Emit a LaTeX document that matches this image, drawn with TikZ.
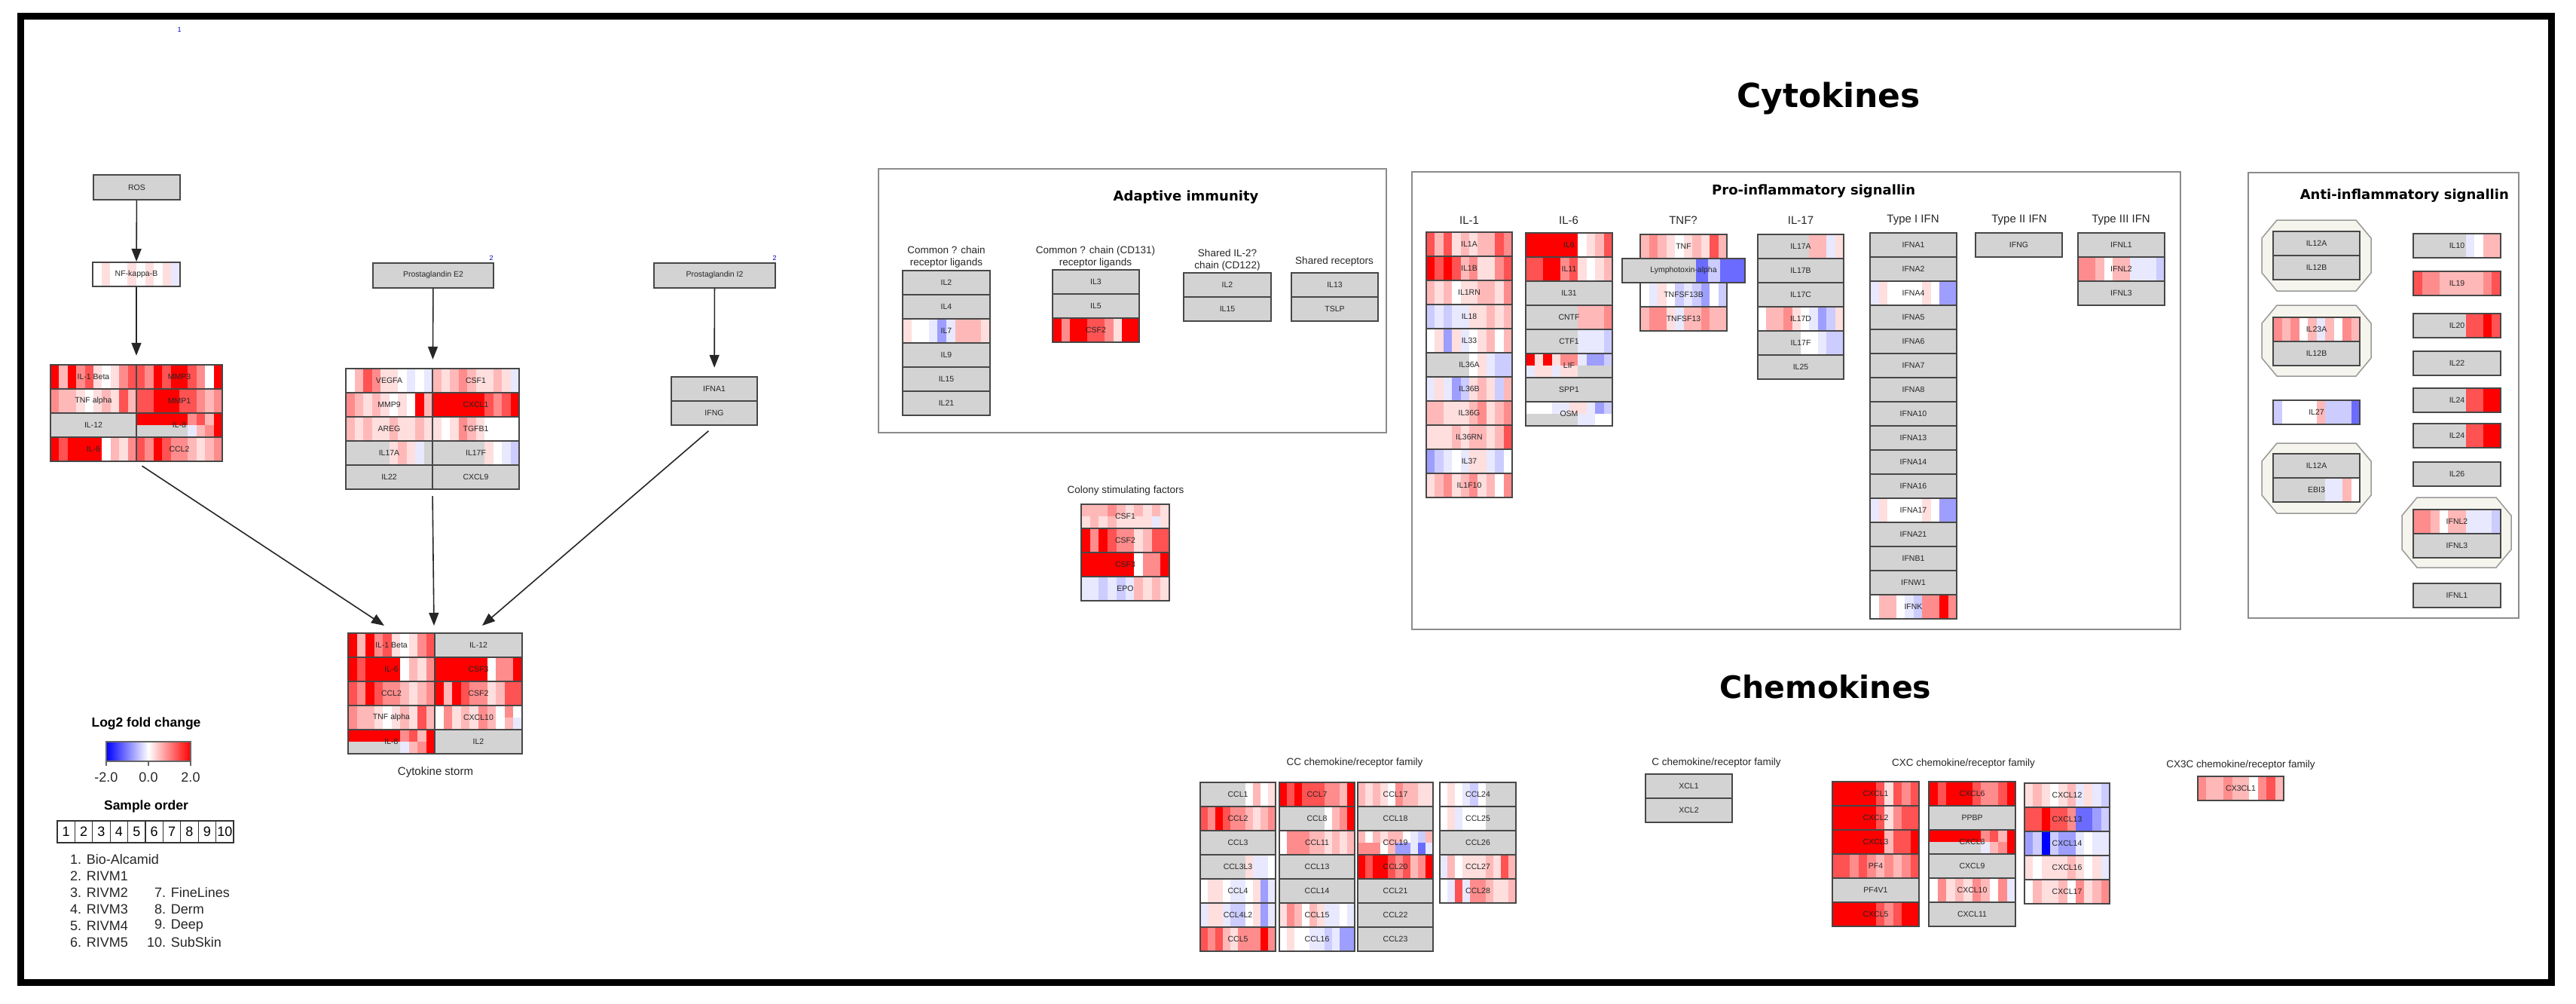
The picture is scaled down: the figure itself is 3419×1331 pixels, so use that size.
\documentclass[tikz,border=0pt]{standalone}
\usepackage{fontspec}
\setmainfont{Liberation Sans}
\newfontfamily\hdfont{DejaVu Sans}
\usetikzlibrary{arrows.meta,fit}
\definecolor{hmg}{HTML}{D3D3D3}
\colorlet{hm0}{white}
\colorlet{hm1}{red!13}
\colorlet{hm2}{red!28}
\colorlet{hm3}{red!45}
\colorlet{hm4}{red!68}
\colorlet{hm5}{red}
\colorlet{hma}{blue!9}
\colorlet{hmb}{blue!20}
\colorlet{hmc}{blue!38}
\colorlet{hmd}{blue!58}
\colorlet{hme}{blue}
\definecolor{cplxfill}{HTML}{F5F5ED}
\newcommand\hgn[6]{%
  \foreach \cc [count=\ii from 0] in {#6}{\fill[fill=hm\cc] ({#2+\ii*#4/10},{#3}) rectangle ({#2+(\ii+1)*#4/10+0.4},{#3+32});}
  \node[gframe, minimum width=#4pt] (#1) at ({#2+#4/2},{#3+16}) {#5};}
\newcommand\hgnn[7]{%
  \foreach \cc [count=\ii from 0] in {#6}{\fill[fill=hm\cc] ({#2+\ii*#4/10},{#3}) rectangle ({#2+(\ii+1)*#4/10+0.4},{#3+16});}
  \foreach \cc [count=\ii from 0] in {#7}{\fill[fill=hm\cc] ({#2+\ii*#4/10},{#3+16}) rectangle ({#2+(\ii+1)*#4/10+0.4},{#3+32});}
  \node[gframe, minimum width=#4pt] (#1) at ({#2+#4/2},{#3+16}) {#5};}
\newcommand\hgg[5]{\node[gframe, fill=hmg, minimum width=#4pt] (#1) at ({#2+#4/2},{#3+16}) {#5};}
\newcommand\hocto[4]{\filldraw[cplx] ({#1+20},#2) -- ({#3-20},#2) -- (#3,{#2+24}) -- (#3,{#4-24}) -- ({#3-20},#4) -- ({#1+20},#4) -- (#1,{#4-24}) -- (#1,{#2+24}) -- cycle;}
\begin{document}
\begin{tikzpicture}[x=1pt,y=-1pt,
  gframe/.style={draw=black!72, line width=2pt, inner sep=0pt, minimum height=32pt, font=\fontsize{10.5}{12}\selectfont, text=black!85},
  pbox/.style={gframe, fill=hmg, minimum height=33pt},
  arr/.style={-{Triangle[length=17pt,width=13pt]}, line width=1.6pt, black!85},
  grp/.style={draw=black!45, line width=2.2pt},
  ttl/.style={font=\hdfont\bfseries\fontsize{18}{20}\selectfont, inner sep=0pt},
  big/.style={font=\hdfont\bfseries\fontsize{44}{48}\selectfont, inner sep=0pt},
  sub/.style={font=\fontsize{15}{17}\selectfont, text=black!85, inner sep=0pt},
  subs/.style={font=\fontsize{13.5}{16}\selectfont, text=black!85, inner sep=0pt, align=center},
  bnum/.style={font=\fontsize{9}{10}\selectfont, text=blue!70!black, inner sep=0pt},
  cplx/.style={fill=cplxfill, draw=black!40, line width=1.5pt},
  leg/.style={font=\fontsize{18}{20}\selectfont, text=black!85, inner sep=0pt},
  legb/.style={font=\bfseries\fontsize{17.5}{20}\selectfont, inner sep=0pt},
  sbox/.style={draw=black!80, line width=1.2pt, minimum width=23.4pt, minimum height=29pt, inner sep=0pt, font=\fontsize{18}{20}\selectfont}]
\useasboundingbox (0,0) rectangle (3419,1331);
\fill[white] (0,0) rectangle (3419,1331);
\draw[line width=9pt] (27,21) rectangle (3386,1303);

% ---------- left pathway ----------
\node[bnum] (b1) at (238,39) {1};
\node[pbox, minimum width=115pt] (ros) at (181.5,248.5) {ROS};
\hgn{nfkb}{123}{348}{116}{NF-kappa-B}{0,1,0,0,1,0,1,0,1,a}
\node[pbox, minimum width=160pt] (pge2) at (575,365) {Prostaglandin E2};
\node[bnum] (b2) at (652,342) {2};
\node[pbox, minimum width=161pt] (pgi2) at (948.5,365) {Prostaglandin I2};
\node[bnum] (b3) at (1028,342) {2};

\hgn{ha1}{67}{484}{114}{IL-1 Beta}{5,2,5,3,4,1,0,1,3,4}
\hgn{ha2}{181}{484}{114}{MMP3}{4,3,5,4,5,5,4,3,0,5}
\hgn{ha3}{67}{516}{114}{TNF alpha}{3,2,2,1,0,1,2,1,4,2}
\hgn{ha4}{181}{516}{114}{MMP1}{4,4,5,5,5,4,4,3,2,3}
\hgg{ha5}{67}{548}{114}{IL-12}
\hgnn{ha6}{181}{548}{114}{IL-8}{5,5,5,5,5,5,3,4,2,5}{g,g,g,g,g,g,a,2,3,5}
\hgn{ha7}{67}{580}{114}{IL-6}{5,4,5,5,5,5,0,2,1,3}
\hgn{ha8}{181}{580}{114}{CCL2}{4,3,5,4,3,3,2,1,2,3}
\node[fit=(ha1)(ha8), inner sep=0pt] (hmA) {};

\hgn{hb1}{459}{489}{115}{VEGFA}{0,2,4,3,1,1,0,a,0,a}
\hgn{hb2}{574}{489}{115}{CSF1}{2,1,2,3,2,1,1,2,1,a}
\hgn{hb3}{459}{521}{115}{MMP9}{3,2,1,2,1,0,1,0,5,2}
\hgn{hb4}{574}{521}{115}{CXCL1}{5,5,5,5,5,5,4,3,4,5}
\hgn{hb5}{459}{553}{115}{AREG}{2,1,2,1,1,2,1,1,2,1}
\hgn{hb6}{574}{553}{115}{TGFB1}{1,0,1,3,2,1,0,0,0,0}
\hgn{hb7}{459}{585}{115}{IL17A}{g,g,g,g,g,1,2,1,a,g}
\hgn{hb8}{574}{585}{115}{IL17F}{g,g,g,g,g,g,1,0,a,b}
\hgg{hb9}{459}{617}{115}{IL22}
\hgg{hb10}{574}{617}{115}{CXCL9}
\node[fit=(hb1)(hb10), inner sep=0pt] (hmB) {};

\hgg{hc1}{891}{500}{114}{IFNA1}
\hgg{hc2}{891}{532}{114}{IFNG}
\node[fit=(hc1)(hc2), inner sep=0pt] (hmC) {};

\hgn{st1}{462}{840}{115}{IL-1 Beta}{5,2,5,3,4,1,0,1,3,4}
\hgn{st2}{462}{872}{115}{IL-6}{5,4,5,5,5,5,0,2,1,3}
\hgn{st3}{462}{904}{115}{CCL2}{4,3,5,4,3,3,2,1,2,3}
\hgn{st4}{462}{936}{115}{TNF alpha}{3,2,2,1,0,1,2,1,4,2}
\hgnn{st5}{462}{968}{115}{IL-8}{5,5,5,5,5,5,3,4,2,5}{g,g,g,g,g,g,a,2,3,5}
\hgg{st6}{577}{840}{116}{IL-12}
\hgn{st7}{577}{872}{116}{CSF3}{5,5,5,5,5,5,0,3,3,5}
\hgn{st8}{577}{904}{116}{CSF2}{5,2,5,4,3,3,1,2,4,4}
\hgnn{st9}{577}{936}{116}{CXCL10}{0,3,1,2,1,3,2,0,3,0}{0,3,1,2,1,3,2,0,2,a}
\hgg{st10}{577}{968}{116}{IL2}
\node[sub] (stlbl) at (578,1025) {Cytokine storm};

\coordinate (tA) at (510,830);
\coordinate (tB) at (576,830);
\coordinate (tC) at (640,830);
\draw[arr] (ros) -- (nfkb);
\draw[arr, shorten >=11pt] (nfkb) -- (hmA);
\draw[arr, shorten >=11pt] (pge2) -- (hmB);
\draw[arr, shorten >=11pt] (pgi2) -- (hmC);
\draw[arr, shorten <=9pt] (hmA.south) -- (tA);
\draw[arr, shorten <=8pt] (hmB.south) -- (tB);
\draw[arr, shorten <=10pt] (hmC.south) -- (tC);

% ---------- legend ----------
\node[legb] (lfc) at (194,960) {Log2 fold change};
\shade[left color=blue, right color=red, middle color=white] (141,984) rectangle (253,1010);
\draw[black!60, line width=1.2pt] (141,984) rectangle (253,1010);
\draw[black!60, line width=1.2pt] (141,1010) -- (141,1016) (197,1010) -- (197,1016) (253,1010) -- (253,1016);
\node[leg] (lm2) at (141,1031) {-2.0};
\node[leg] (l00) at (197,1031) {0.0};
\node[leg] (lp2) at (253,1031) {2.0};
\node[legb] (sord) at (194,1070) {Sample order};
\foreach \k in {1,...,10} \node[sbox] (s\k) at ({76+23.4*(\k-0.5)},1103.5) {\k};
\node[leg, anchor=west] (sn1) at (93,1140) {1. Bio-Alcamid};
\node[leg, anchor=west] (sn2) at (93,1162) {2. RIVM1};
\node[leg, anchor=west] (sn3) at (93,1184) {3. RIVM2};
\node[leg, anchor=west] (sn4) at (93,1206) {4. RIVM3};
\node[leg, anchor=west] (sn5) at (93,1228) {5. RIVM4};
\node[leg, anchor=west] (sn6) at (93,1250) {6. RIVM5};
\node[leg, anchor=west] (sn7) at (205,1184) {7. FineLines};
\node[leg, anchor=west] (sn8) at (205,1206) {8. Derm};
\node[leg, anchor=west] (sn9) at (205,1228) {9. Deep};
\node[leg, anchor=west] (sn10) at (195,1250) {10. SubSkin};

% ---------- Cytokines ----------
\node[big] (cyt) at (2427,131) {Cytokines};

% Adaptive immunity
\draw[grp] (1166,224) rectangle (1840,574);
\node[ttl] (adt) at (1574,262) {Adaptive immunity};
\node[subs] (ad1) at (1256,341) {Common ? chain\\receptor ligands};
\node[subs] (ad2) at (1454,341) {Common ? chain (CD131)\\receptor ligands};
\node[subs] (ad3) at (1629,345) {Shared IL-2?\\chain (CD122)};
\node[subs] (ad4) at (1771,347) {Shared receptors};
\hgg{a1}{1198}{359}{116}{IL2}
\hgg{a2}{1198}{391}{116}{IL4}
\hgn{a3}{1198}{423}{116}{IL7}{1,0,0,a,c,a,2,2,2,1}
\hgg{a4}{1198}{455}{116}{IL9}
\hgg{a5}{1198}{487}{116}{IL15}
\hgg{a6}{1198}{519}{116}{IL21}
\hgg{a7}{1397}{358}{115}{IL3}
\hgg{a8}{1397}{390}{115}{IL5}
\hgn{a9}{1397}{422}{115}{CSF2}{5,3,5,5,4,4,3,1,5,5}
\hgg{a10}{1571}{362}{116}{IL2}
\hgg{a11}{1571}{394}{116}{IL15}
\hgg{a12}{1714}{362}{115}{IL13}
\hgg{a13}{1714}{394}{115}{TSLP}

% Colony stimulating factors
\node[subs] (csft) at (1494,651) {Colony stimulating factors};
\hgnn{c1}{1435}{669}{117}{CSF1}{2,2,2,3,2,1,2,1,2,1}{1,2,1,2,1,1,1,1,a,1}
\hgn{c2}{1435}{701}{117}{CSF2}{5,3,5,4,3,3,1,2,4,4}
\hgn{c3}{1435}{733}{117}{CSF3}{5,5,5,5,5,5,0,3,3,5}
\hgn{c4}{1435}{765}{117}{EPO}{a,a,b,a,b,a,2,1,2,1}

% Pro-inflammatory signalling
\draw[grp] (1874,228) rectangle (2894,835);
\node[ttl, anchor=west] (prot) at (2272,254) {Pro-inflammatory signallin};
\node[sub] (g1t) at (1950,292) {IL-1};
\node[sub] (g2t) at (2082,292) {IL-6};
\node[sub] (g3t) at (2234,292) {TNF?};
\node[sub] (g4t) at (2390,292) {IL-17};
\node[sub] (g5t) at (2539,292) {Type I IFN};
\node[sub] (g6t) at (2680,292) {Type II IFN};
\node[sub] (g7t) at (2815,292) {Type III IFN};
\hgn{p1}{1893}{308}{114}{IL1A}{4,2,4,1,2,1,2,2,4,3}
\hgn{p2}{1893}{340}{114}{IL1B}{5,4,5,4,2,3,1,1,3,4}
\hgn{p3}{1893}{372}{114}{IL1RN}{2,1,2,0,1,1,2,2,1,3}
\hgn{p4}{1893}{404}{114}{IL18}{b,a,b,a,a,1,1,2,1,2}
\hgn{p5}{1893}{436}{114}{IL33}{0,1,c,1,a,0,1,2,0,2}
\hgn{p6}{1893}{468}{114}{IL36A}{g,g,g,g,g,0,1,a,b,b}
\hgn{p7}{1893}{500}{114}{IL36B}{a,1,a,c,b,1,2,1,b,2}
\hgn{p8}{1893}{532}{114}{IL36G}{2,2,1,1,1,2,3,1,2,3}
\hgn{p9}{1893}{564}{114}{IL36RN}{1,1,1,2,1,2,2,1,2,4}
\hgn{p10}{1893}{596}{114}{IL37}{c,b,a,0,a,1,1,a,b,0}
\hgn{p11}{1893}{628}{114}{IL1F10}{1,2,3,1,2,3,1,2,0,3}
\hgn{q1}{2025}{309}{115}{IL6}{5,5,5,5,5,5,0,1,2,4}
\hgn{q2}{2025}{341}{115}{IL11}{4,4,5,5,3,4,1,0,1,2}
\hgg{q3}{2025}{373}{115}{IL31}
\hgn{q4}{2025}{405}{115}{CNTF}{g,g,g,g,g,g,2,2,2,3}
\hgn{q5}{2025}{437}{115}{CTF1}{g,g,g,g,g,g,a,a,a,b}
\hgnn{q6}{2025}{469}{115}{LIF}{5,1,5,1,3,3,a,c,c,b}{a,1,1,a,1,1,g,g,g,g}
\hgg{q7}{2025}{501}{115}{SPP1}
\hgnn{q8}{2025}{533}{115}{OSM}{0,0,0,a,a,1,1,a,c,b}{g,g,g,g,g,g,a,a,0,0}
\hgn{r1}{2177}{311}{115}{TNF}{2,3,2,1,0,1,2,1,4,2}
\hgn{r3}{2177}{375}{115}{TNFSF13B}{0,a,1,0,b,a,b,c,0,b}
\hgn{r4}{2177}{407}{115}{TNFSF13}{2,3,3,1,a,2,2,3,2,2}
\hgn{r2}{2153}{343}{163}{Lymphotoxin-alpha}{g,g,g,g,g,g,d,b,d,d}
\hgn{u1}{2333}{311}{114}{IL17A}{g,g,g,g,g,g,2,2,a,1}
\hgg{u2}{2333}{343}{114}{IL17B}
\hgg{u3}{2333}{375}{114}{IL17C}
\hgn{u4}{2333}{407}{114}{IL17D}{0,2,2,3,1,0,a,c,b,1}
\hgn{u5}{2333}{439}{114}{IL17F}{g,g,g,g,g,0,0,a,b,b}
\hgg{u6}{2333}{471}{114}{IL25}
\hgg{v1}{2482}{309}{115}{IFNA1}
\hgg{v2}{2482}{341}{115}{IFNA2}
\hgn{v3}{2482}{373}{115}{IFNA4}{a,1,0,0,0,0,1,0,c,c}
\hgg{v4}{2482}{405}{115}{IFNA5}
\hgg{v5}{2482}{437}{115}{IFNA6}
\hgg{v6}{2482}{469}{115}{IFNA7}
\hgg{v7}{2482}{501}{115}{IFNA8}
\hgg{v8}{2482}{533}{115}{IFNA10}
\hgg{v9}{2482}{565}{115}{IFNA13}
\hgg{v10}{2482}{597}{115}{IFNA14}
\hgg{v11}{2482}{629}{115}{IFNA16}
\hgn{v12}{2482}{661}{115}{IFNA17}{a,1,0,0,0,0,1,0,c,c}
\hgg{v13}{2482}{693}{115}{IFNA21}
\hgg{v14}{2482}{725}{115}{IFNB1}
\hgg{v15}{2482}{757}{115}{IFNW1}
\hgn{v16}{2482}{789}{115}{IFNK}{0,2,2,0,a,b,3,3,5,3}
\hgg{w1}{2622}{309}{115}{IFNG}
\hgg{x1}{2758}{309}{115}{IFNL1}
\hgn{x2}{2758}{341}{115}{IFNL2}{3,3,2,0,2,2,a,a,a,b}
\hgg{x3}{2758}{373}{115}{IFNL3}

% Anti-inflammatory signalling
\draw[grp] (2984,229) rectangle (3343,820);
\node[ttl, anchor=east] (antt) at (3330,260) {Anti-inflammatory signallin};
\hocto{3002}{292}{3147}{386}
\hocto{3002}{405}{3147}{499}
\hocto{3002}{588}{3147}{681}
\hocto{3188}{660}{3333}{753}
\hgg{y1}{3017}{307}{115}{IL12A}
\hgg{y2}{3017}{339}{115}{IL12B}
\hgn{y3}{3017}{421}{115}{IL23A}{3,2,3,0,2,a,2,0,3,2}
\hgg{y4}{3017}{453}{115}{IL12B}
\hgn{y5}{3017}{531}{115}{IL27}{b,0,0,0,0,2,b,b,b,d}
\hgg{y6}{3017}{602}{115}{IL12A}
\hgn{y7}{3017}{634}{115}{EBI3}{g,g,g,g,g,g,a,a,2,0}
\hgn{z1}{3203}{310}{116}{IL10}{g,g,g,g,g,g,a,0,2,2}
\hgn{z2}{3203}{360}{116}{IL19}{4,3,3,2,2,2,2,2,3,4}
\hgn{z3}{3203}{416}{116}{IL20}{g,g,g,g,g,g,4,4,5,4}
\hgg{z4}{3203}{466}{116}{IL22}
\hgn{z5}{3203}{515}{116}{IL24}{g,g,g,g,g,g,4,4,5,5}
\hgn{z6}{3203}{562}{116}{IL24}{g,g,g,g,g,g,4,4,5,5}
\hgg{z7}{3203}{613}{116}{IL26}
\hgn{z8}{3203}{676}{116}{IFNL2}{3,3,2,0,2,2,a,a,a,b}
\hgg{z9}{3203}{708}{116}{IFNL3}
\hgg{z10}{3203}{774}{116}{IFNL1}

% ---------- Chemokines ----------
\node[big, font=\hdfont\bfseries\fontsize{41}{46}\selectfont] (chem) at (2423,911) {Chemokines};
\node[subs] (cct) at (1798,1012) {CC chemokine/receptor family};
\node[subs] (ct) at (2278,1012) {C chemokine/receptor family};
\node[subs] (cxct) at (2606,1013) {CXC chemokine/receptor family};
\node[subs] (cx3t) at (2974,1015) {CX3C chemokine/receptor family};
\hgn{k1}{1593}{1038}{100}{CCL1}{g,g,g,g,g,g,0,2,0,1}
\hgn{k2}{1593}{1070}{100}{CCL2}{4,3,5,4,3,3,2,1,2,3}
\hgg{k3}{1593}{1102}{100}{CCL3}
\hgn{k4}{1593}{1134}{100}{CCL3L3}{g,g,g,g,g,g,1,a,a,0}
\hgn{k5}{1593}{1166}{100}{CCL4}{0,1,1,0,a,a,0,1,c,a}
\hgn{k6}{1593}{1198}{100}{CCL4L2}{a,1,1,a,b,b,0,1,c,a}
\hgn{k7}{1593}{1230}{100}{CCL5}{4,3,4,2,1,3,3,3,5,3}
\hgn{k8}{1698}{1038}{100}{CCL7}{5,4,5,4,4,4,3,3,2,5}
\hgn{k9}{1698}{1070}{100}{CCL8}{g,g,g,g,g,g,0,2,3,5}
\hgn{k10}{1698}{1102}{100}{CCL11}{0,3,3,3,2,2,1,2,1,2}
\hgg{k11}{1698}{1134}{100}{CCL13}
\hgg{k12}{1698}{1166}{100}{CCL14}
\hgn{k13}{1698}{1198}{100}{CCL15}{1,3,2,0,2,1,a,a,0,a}
\hgn{k14}{1698}{1230}{100}{CCL16}{0,1,0,0,a,a,b,a,c,c}
\hgn{k15}{1802}{1038}{100}{CCL17}{2,1,2,1,0,3,2,2,1,1}
\hgg{k16}{1802}{1070}{100}{CCL18}
\hgnn{k17}{1802}{1102}{100}{CCL19}{2,0,2,1,2,2,0,a,b,2}{3,3,3,0,2,c,c,a,d,a}
\hgn{k18}{1802}{1134}{100}{CCL20}{5,4,5,5,4,3,4,2,3,5}
\hgg{k19}{1802}{1166}{100}{CCL21}
\hgg{k20}{1802}{1198}{100}{CCL22}
\hgg{k21}{1802}{1230}{100}{CCL23}
\hgn{k22}{1911}{1038}{101}{CCL24}{0,1,0,a,b,0,g,g,g,g}
\hgn{k23}{1911}{1070}{101}{CCL25}{0,1,a,0,0,0,g,g,g,g}
\hgg{k24}{1911}{1102}{101}{CCL26}
\hgn{k25}{1911}{1134}{101}{CCL27}{a,2,0,1,1,1,2,1,4,2}
\hgn{k26}{1911}{1166}{101}{CCL28}{0,a,4,a,3,3,2,1,1,2}
\hgg{m1}{2184}{1027}{115}{XCL1}
\hgg{m2}{2184}{1059}{115}{XCL2}
\hgn{n1}{2432}{1037}{115}{CXCL1}{5,5,5,5,5,4,1,4,3,4}
\hgn{n2}{2432}{1069}{115}{CXCL2}{5,5,5,5,5,4,1,3,4,4}
\hgn{n3}{2432}{1101}{115}{CXCL3}{5,5,5,5,5,5,2,4,4,5}
\hgn{n4}{2432}{1133}{115}{PF4}{4,4,3,4,3,2,3,2,3,4}
\hgg{n5}{2432}{1165}{115}{PF4V1}
\hgn{n6}{2432}{1197}{115}{CXCL5}{5,5,5,5,5,4,3,4,5,5}
\hgn{o1}{2560}{1037}{115}{CXCL6}{5,4,5,5,5,4,3,3,4,5}
\hgg{o2}{2560}{1069}{115}{PPBP}
\hgnn{o3}{2560}{1101}{115}{CXCL8}{5,5,5,5,5,5,3,4,2,5}{g,g,g,g,g,g,a,2,3,5}
\hgg{o4}{2560}{1133}{115}{CXCL9}
\hgn{o5}{2560}{1165}{115}{CXCL10}{0,3,1,2,1,3,2,0,3,a}
\hgg{o6}{2560}{1197}{115}{CXCL11}
\hgn{t1}{2687}{1039}{113}{CXCL12}{1,2,1,0,1,2,a,1,a,b}
\hgn{t2}{2687}{1071}{113}{CXCL13}{4,4,5,4,4,3,d,d,c,b}
\hgn{t3}{2687}{1103}{113}{CXCL14}{c,b,e,b,c,c,a,0,a,a}
\hgn{t4}{2687}{1135}{113}{CXCL16}{1,0,1,1,1,2,1,0,1,a}
\hgn{t5}{2687}{1167}{113}{CXCL17}{0,2,1,1,2,0,3,1,2,3}
\hgn{f1}{2917}{1030}{114}{CX3CL1}{3,2,2,3,2,2,0,3,4,2}
\end{tikzpicture}
\end{document}
